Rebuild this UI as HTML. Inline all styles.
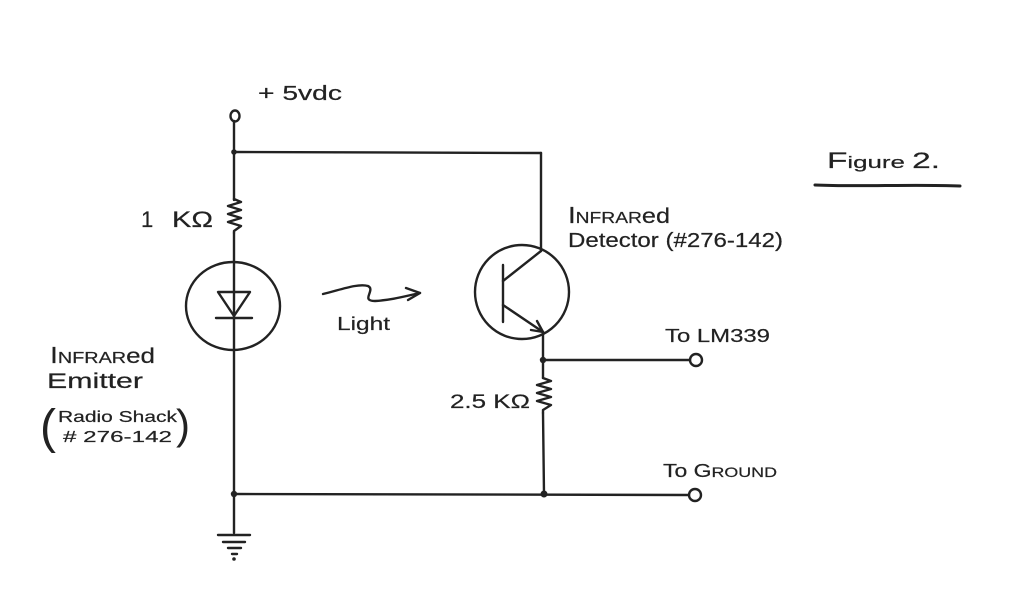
<!DOCTYPE html>
<html>
<head>
<meta charset="utf-8">
<style>
  html, body { margin:0; padding:0; background:#fff; }
  svg { display:block; }
  text { font-family: "Liberation Sans", "DejaVu Sans", sans-serif; fill:#222; stroke:#222; stroke-width:0.2; }
</style>
</head>
<body>
<svg width="1024" height="606" viewBox="0 0 1024 606" xmlns="http://www.w3.org/2000/svg">
  <rect width="1024" height="606" fill="#fff"/>
  <g stroke="#222" stroke-width="2.4" fill="none" stroke-linecap="round" stroke-linejoin="round">
    <!-- +5 terminal -->
    <ellipse cx="235" cy="116" rx="4.5" ry="5.5"/>
    <line x1="234" y1="121" x2="234" y2="200"/>
    <!-- top rail -->
    <line x1="234" y1="152" x2="541" y2="153"/>
    <line x1="541" y1="153" x2="541" y2="251"/>
    <!-- 1K resistor -->
    <polyline points="234,199 241,202 228,206 241,210 228,214 241,218 228,222 241,226 234,231 234,233"/>
    <!-- left vertical -->
    <line x1="234" y1="233" x2="234" y2="533"/>
    <!-- LED -->
    <ellipse cx="233" cy="306" rx="47" ry="44"/>
    <polygon points="218,292 250,292 234,316"/>
    <line x1="216" y1="318" x2="252" y2="318"/>
    <!-- light arrow -->
    <path d="M323,294 C340,290 358,283 368,286 C376,290 360,301 375,301 C392,300 406,296 420,293"/>
    <polyline points="406,288 420,293 408,300"/>
    <!-- bottom rail -->
    <line x1="234" y1="494" x2="689" y2="495"/>
    <ellipse cx="695" cy="495" rx="6" ry="6"/>
    <!-- ground symbol -->
    <line x1="218" y1="535" x2="250" y2="535"/>
    <line x1="223" y1="542" x2="245" y2="542"/>
    <line x1="228" y1="548" x2="241" y2="548"/>
    <line x1="232" y1="554" x2="237" y2="554"/>
    <!-- transistor -->
    <ellipse cx="522" cy="292" rx="47" ry="47"/>
    <line x1="503" y1="265" x2="503" y2="322"/>
    <line x1="503" y1="281" x2="541" y2="251"/>
    <line x1="503" y1="305" x2="543" y2="332"/>
    <polyline points="531,330 543,332 537,321"/>
    <line x1="543" y1="332" x2="543" y2="378"/>
    <!-- LM339 output -->
    <line x1="543" y1="360" x2="690" y2="360"/>
    <ellipse cx="696" cy="360" rx="6" ry="6"/>
    <!-- 2.5K resistor -->
    <polyline points="543,378 551,381 537,385 551,389 537,393 551,397 537,401 551,405 543,410 543,413"/>
    <line x1="543" y1="413" x2="544" y2="494"/>
    <!-- figure underline -->
    <path d="M815,185 C860,187 910,184 960,186" stroke-width="3"/>
  </g>
  <g fill="#222">
    <circle cx="234" cy="152" r="2.8"/>
    <circle cx="234" cy="494" r="3.2"/>
    <circle cx="543" cy="360" r="3.2"/>
    <circle cx="544" cy="494" r="3.5"/>
    <circle cx="234" cy="559" r="1.8"/>
  </g>

  <!-- labels -->
  <text x="258" y="100" font-size="20" textLength="84" lengthAdjust="spacingAndGlyphs">+ 5vdc</text>
  <text x="141" y="227" font-size="22">1</text>
  <text x="172" y="227" font-size="22" textLength="41" lengthAdjust="spacingAndGlyphs">KΩ</text>

  <text x="50" y="363" textLength="105" lengthAdjust="spacingAndGlyphs"><tspan font-size="23">I</tspan><tspan font-size="16">NFRAR</tspan><tspan font-size="21">ed</tspan></text>
  <text x="47" y="388" font-size="21" textLength="96" lengthAdjust="spacingAndGlyphs">Emitter</text>
  <text x="40" y="443" font-size="48" style="stroke-width:0">(</text>
  <text x="58" y="422" font-size="16" textLength="119" lengthAdjust="spacingAndGlyphs">Radio Shack</text>
  <text x="63" y="442" font-size="16" textLength="109" lengthAdjust="spacingAndGlyphs"># 276-142</text>
  <text x="176" y="439" font-size="42" style="stroke-width:0">)</text>

  <text x="568" y="223" textLength="102" lengthAdjust="spacingAndGlyphs"><tspan font-size="23">I</tspan><tspan font-size="16">NFRAR</tspan><tspan font-size="21">ed</tspan></text>
  <text x="568" y="247" font-size="20" textLength="215" lengthAdjust="spacingAndGlyphs">Detector (#276-142)</text>

  <text x="337" y="330" font-size="18" textLength="53" lengthAdjust="spacingAndGlyphs">Light</text>
  <text x="450" y="408" font-size="19" textLength="80" lengthAdjust="spacingAndGlyphs">2.5 KΩ</text>
  <text x="665" y="342" font-size="18" textLength="105" lengthAdjust="spacingAndGlyphs">To LM339</text>
  <text x="663" y="477" textLength="114" lengthAdjust="spacingAndGlyphs"><tspan font-size="18">To </tspan><tspan font-size="18">G</tspan><tspan font-size="14">ROUND</tspan></text>
  <text x="827" y="168" textLength="113" lengthAdjust="spacingAndGlyphs"><tspan font-size="22">F</tspan><tspan font-size="17">igure </tspan><tspan font-size="22">2.</tspan></text>
</svg>
</body>
</html>
